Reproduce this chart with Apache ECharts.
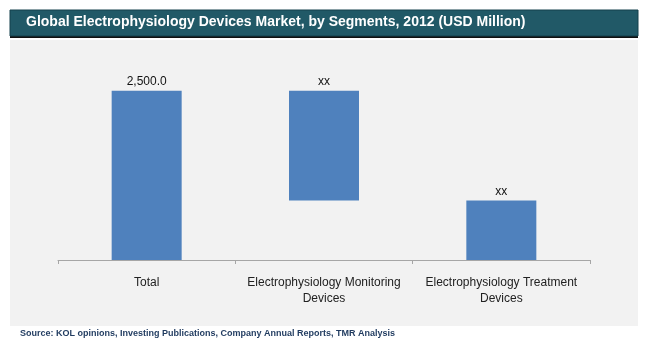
<!DOCTYPE html>
<html>
<head>
<meta charset="UTF-8">
<title>Global Electrophysiology Devices Market</title>
<script src="https://cdn.jsdelivr.net/npm/echarts@6/dist/echarts.min.js"></script>
<style>
body { margin: 0; padding: 0; background: #fff; }
#main { width: 650px; height: 354px; }
</style>
</head>
<body>
<div id="main"></div>
<script>
// waterfall: invisible base + visible segment
var categories = ['Total', 'Electrophysiology Monitoring\nDevices', 'Electrophysiology Treatment\nDevices'];
var baseValues = [0, 880, 0];
var segValues = [2500, 1620, 880];
var valueLabels = ['2,500.0', 'xx', 'xx'];

var chart = echarts.init(document.getElementById('main'));
var option = {
    animation: false,
    graphic: [
        // title bar
        { type: 'rect', shape: { x: 10, y: 10, width: 628, height: 28 }, style: { fill: '#111' }, z: -10 },
        { type: 'rect', shape: { x: 10, y: 10, width: 628, height: 26 }, style: { fill: '#215967', stroke: '#14414c', lineWidth: 1 }, z: -9 },
        // plot background
        { type: 'rect', shape: { x: 10, y: 40, width: 628, height: 286 }, style: { fill: '#f2f2f2' }, z: -10 }
    ],
    title: [{
        text: 'Global Electrophysiology Devices Market, by Segments, 2012 (USD Million)',
        left: 26,
        top: 15,
        padding: 0,
        textStyle: {
            color: '#ffffff',
            fontFamily: '"Liberation Sans", Arial, sans-serif',
            fontWeight: 'bold',
            fontSize: 14
        }
    }, {
        text: 'Source: KOL opinions, Investing Publications, Company Annual Reports, TMR Analysis',
        left: 20,
        top: 329,
        padding: 0,
        textStyle: {
            color: '#1f3a5f',
            fontFamily: '"Liberation Sans", Arial, sans-serif',
            fontWeight: 'bold',
            fontSize: 9
        }
    }],
    grid: {
        left: 58,
        right: 60,
        top: 57,
        bottom: 94
    },
    xAxis: {
        type: 'category',
        data: categories,
        axisLine: { lineStyle: { color: '#a6a6a6', width: 1 } },
        axisTick: { show: true, length: 4, lineStyle: { color: '#a6a6a6' } },
        axisLabel: {
            interval: 0,
            margin: 15,
            color: '#222',
            fontSize: 12,
            lineHeight: 16,
            fontFamily: '"Liberation Sans", Arial, sans-serif'
        }
    },
    yAxis: {
        type: 'value',
        min: 0,
        max: 3000,
        show: false,
        splitLine: { show: false }
    },
    series: [{
        type: 'bar',
        stack: 'w',
        data: baseValues,
        barWidth: 70,
        itemStyle: { color: 'rgba(0,0,0,0)' },
        silent: true
    }, {
        type: 'bar',
        stack: 'w',
        data: segValues,
        barWidth: 70,
        itemStyle: { color: '#4f81bd' },
        label: {
            show: true,
            position: 'top',
            distance: 3,
            color: '#111',
            fontSize: 12,
            fontFamily: '"Liberation Sans", Arial, sans-serif',
            formatter: function (p) { return valueLabels[p.dataIndex]; }
        }
    }]
};
chart.setOption(option);
</script>
</body>
</html>
